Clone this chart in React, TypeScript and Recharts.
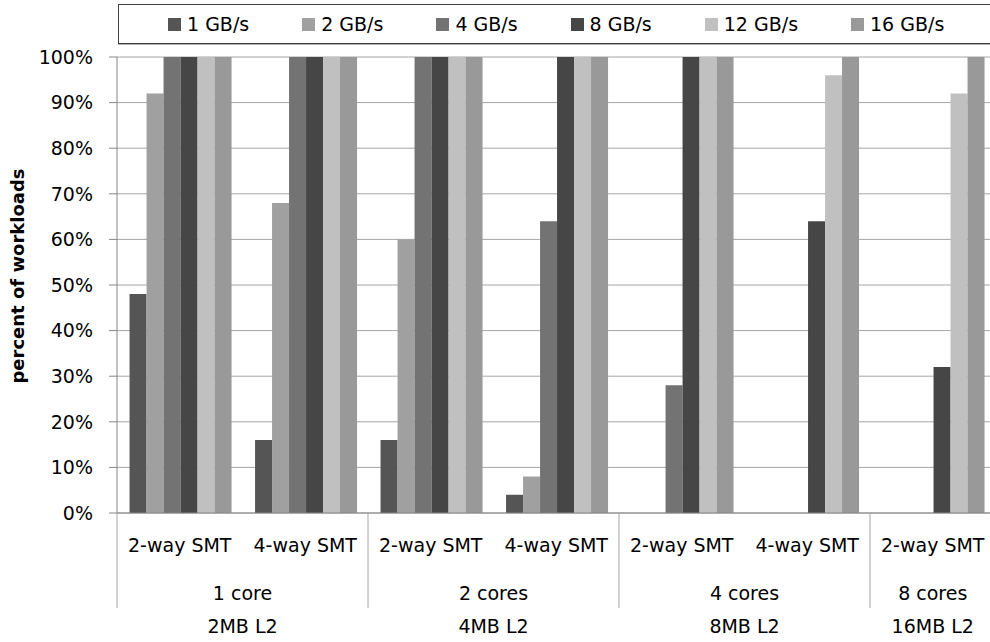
import { Bar, BarChart, CartesianGrid, Legend, XAxis, YAxis } from 'recharts';

// categories, three label levels
const smtLabels = ['2-way SMT', '4-way SMT', '2-way SMT', '4-way SMT', '2-way SMT', '4-way SMT', '2-way SMT'];
const coreLabels = ['1 core', '1 core', '2 cores', '2 cores', '4 cores', '4 cores', '8 cores'];
const cacheLabels = ['2MB L2', '2MB L2', '4MB L2', '4MB L2', '8MB L2', '8MB L2', '16MB L2'];

// percent of workloads per bandwidth
const gb1 = [48, 16, 16, 4, 0, 0, 0];
const gb2 = [92, 68, 60, 8, 0, 0, 0];
const gb4 = [100, 100, 100, 64, 28, 0, 0];
const gb8 = [100, 100, 100, 100, 100, 64, 32];
const gb12 = [100, 100, 100, 100, 100, 96, 92];
const gb16 = [100, 100, 100, 100, 100, 100, 100];

const yTicks = [0, 10, 20, 30, 40, 50, 60, 70, 80, 90, 100];

const SERIES = [
  { key: 'gb1', name: '1 GB/s', color: '#555555', values: gb1 },
  { key: 'gb2', name: '2 GB/s', color: '#a0a0a0', values: gb2 },
  { key: 'gb4', name: '4 GB/s', color: '#737373', values: gb4 },
  { key: 'gb8', name: '8 GB/s', color: '#464646', values: gb8 },
  { key: 'gb12', name: '12 GB/s', color: '#c0c0c0', values: gb12 },
  { key: 'gb16', name: '16 GB/s', color: '#999999', values: gb16 },
];

const rows = smtLabels.map((_, i) => {
  const row: Record<string, number> = { idx: i };
  for (const s of SERIES) row[s.key] = s.values[i];
  return row;
});

const CHART_W = 1000;
const CHART_H = 642;
const MARGIN = { top: 57, right: 4.5, bottom: 0, left: 0 };
const Y_AXIS_W = 117;
const PLOT_W = CHART_W - MARGIN.left - MARGIN.right - Y_AXIS_W;
const BAND = PLOT_W / smtLabels.length;
const FONT = "'DejaVu Sans', sans-serif";
const FS = 19;

function MultiLevelTick(props: any) {
  const { x, y, payload } = props;
  const i = Number(payload.value);
  const first = i === 0 || coreLabels[i] !== coreLabels[i - 1];
  let len = 1;
  while (i + len < coreLabels.length && coreLabels[i + len] === coreLabels[i]) len++;
  const left = x - BAND / 2;
  const groupMid = left + (len * BAND) / 2;
  const txt = { textAnchor: 'middle' as const, dominantBaseline: 'central' as const, fontSize: FS, fill: '#000', fontFamily: FONT };
  return (
    <g>
      <text x={x} y={y + 32} {...txt}>
        {smtLabels[i]}
      </text>
      {first && (
        <>
          <line x1={left} x2={left} y1={y} y2={y + 95} stroke="#a6a6a6" />
          <text x={groupMid} y={y + 80} {...txt}>
            {coreLabels[i]}
          </text>
          <text x={groupMid} y={y + 113} {...txt}>
            {cacheLabels[i]}
          </text>
        </>
      )}
    </g>
  );
}

function LegendBox() {
  return (
    <div
      style={{
        boxSizing: 'border-box',
        width: 900,
        height: 40,
        border: '1px solid #404040',
        boxShadow: '0 1px 0 #b0b0b0',
        display: 'flex',
        alignItems: 'center',
        paddingLeft: 49,
        fontFamily: FONT,
        fontSize: FS,
        color: '#000',
        background: '#fff',
        whiteSpace: 'nowrap',
      }}
    >
      {SERIES.map((s) => (
        <span key={s.key} style={{ display: 'flex', alignItems: 'center', marginRight: 53, flexShrink: 0 }}>
          <span style={{ width: 13, height: 13, background: s.color, marginRight: 6, display: 'inline-block', flexShrink: 0 }} />
          {s.name}
        </span>
      ))}
    </div>
  );
}

function YLabel(props: any) {
  const vb = props.viewBox || { x: 0, y: 57, width: 117, height: 456 };
  const cx = vb.x + 17;
  const cy = vb.y + vb.height / 2 - 9;
  return (
    <text
      x={cx}
      y={cy}
      transform={`rotate(-90 ${cx} ${cy})`}
      textAnchor="middle"
      dominantBaseline="central"
      fontWeight="bold"
      fontSize={18}
      fontFamily={FONT}
      fill="#000"
    >
      percent of workloads
    </text>
  );
}

export default function App() {
  return (
    <div
      style={{
        position: 'absolute',
        left: 0,
        top: 0,
        width: 990,
        height: 642,
        overflow: 'hidden',
        background: '#fff',
        fontFamily: FONT,
      }}
    >
      <BarChart width={CHART_W} height={CHART_H} data={rows} margin={MARGIN} barCategoryGap="10%" barGap={0}>
        <CartesianGrid horizontal vertical={false} stroke="#a6a6a6" />
        <XAxis
          dataKey="idx"
          type="category"
          interval={0}
          height={129}
          tickLine={false}
          tickSize={0}
          tickMargin={0}
          axisLine={{ stroke: '#868686' }}
          tick={<MultiLevelTick />}
        />
        <YAxis
          width={Y_AXIS_W}
          domain={[0, 100]}
          ticks={yTicks}
          tickFormatter={(v: number) => `${v}%`}
          tick={{ fill: '#000', fontSize: FS, fontFamily: FONT }}
          tickSize={8}
          tickMargin={16}
          tickLine={{ stroke: '#868686' }}
          axisLine={{ stroke: '#868686' }}
          interval={0}
          label={<YLabel />}
        />
        <Legend
          layout="horizontal"
          verticalAlign="middle"
          align="center"
          wrapperStyle={{ top: 4, left: 118, width: 900 }}
          content={<LegendBox />}
        />
        {SERIES.map((s) => (
          <Bar key={s.key} dataKey={s.key} name={s.name} fill={s.color} isAnimationActive={false} />
        ))}
      </BarChart>
    </div>
  );
}
